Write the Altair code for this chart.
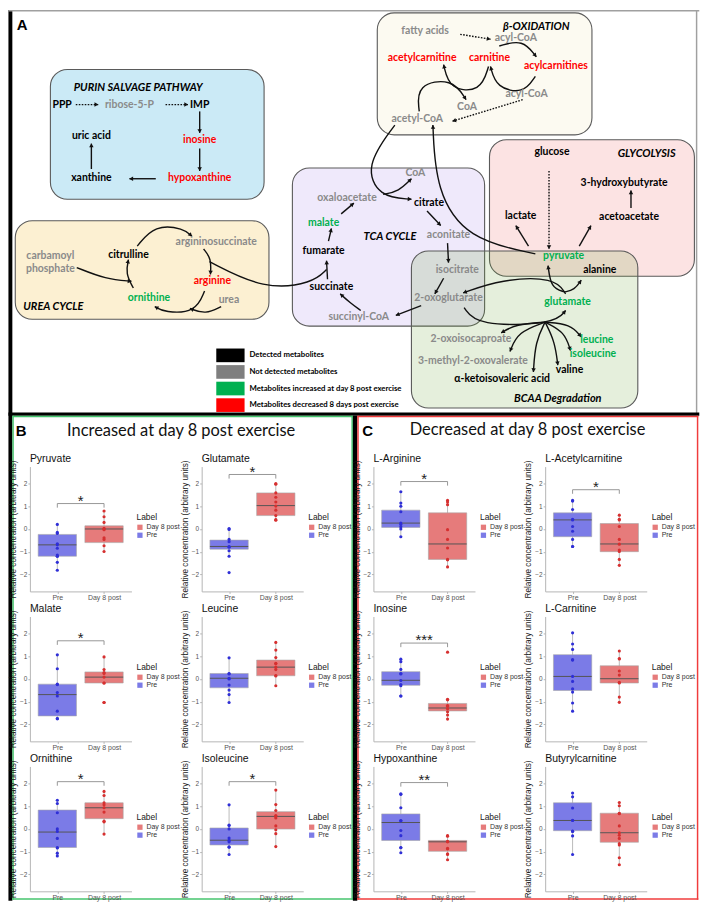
import math
import altair as alt
import pandas as pd

# ======================= PANEL A : pathway diagram =======================
box_names = ["purin", "beta", "glyco", "tca", "urea"]
box_x1 = [43, 378, 493, 291, 7]
box_x2 = [262, 598, 703, 488, 267]
box_y1 = [61, 3, 133, 162, 216]
box_y2 = [194, 128, 273, 324, 317]
box_colors = {"purin": "#cbeaf6", "beta": "#fcfaf1", "glyco": "#fce3e3", "tca": "#efe9fb", "urea": "#fcf0d2"}
bcaa_x1, bcaa_x2, bcaa_y1, bcaa_y2 = [413], [645], [247], [408]

met_text = ["PPP", "ribose-5-P", "IMP", "uric acid", "inosine", "xanthine", "hypoxanthine",
            "fatty acids", "acyl-CoA", "acetylcarnitine", "carnitine", "acylcarnitines", "acyl-CoA", "CoA", "acetyl-CoA",
            "glucose", "3-hydroxybutyrate", "lactate", "acetoacetate", "pyruvate", "alanine",
            "CoA", "oxaloacetate", "citrate", "malate", "aconitate", "fumarate", "isocitrate", "succinate",
            "2-oxoglutarate", "succinyl-CoA",
            "carbamoyl", "phosphate", "citrulline", "argininosuccinate", "arginine", "ornithine", "urea",
            "glutamate", "2-oxoisocaproate", "leucine", "3-methyl-2-oxovalerate", "isoleucine", "valine",
            "α-ketoisovaleric acid"]
met_x = [55, 124, 196, 85, 196, 85, 196,
         427, 520, 424, 493, 561, 531, 470, 419,
         557, 631, 525, 636, 569, 606,
         417, 347, 431, 323, 451, 323, 460, 331, 451, 359,
         43, 43, 123, 213, 209, 144, 226,
         573, 474, 603, 476, 599, 575, 506]
met_y = [97, 97, 97, 129, 133, 172, 172,
         22, 29, 49, 49, 57, 86, 99, 112,
         146, 177, 211, 212, 252, 267,
         167, 193, 198, 218, 231, 247, 267, 284, 295, 315,
         252, 266, 251, 238, 278, 295, 297,
         299, 337, 338, 360, 353, 369, 378]
met_kind = ["det", "nd", "det", "det", "down", "det", "down",
            "nd", "nd", "down", "down", "down", "nd", "nd", "nd",
            "det", "det", "det", "det", "up", "det",
            "nd", "nd", "det", "up", "nd", "det", "nd", "det", "nd", "nd",
            "nd", "nd", "det", "nd", "down", "up", "nd",
            "up", "nd", "up", "nd", "up", "det", "det"]

sec_text = ["PURIN SALVAGE PATHWAY", "β-OXIDATION", "GLYCOLYSIS", "TCA CYCLE", "UREA CYCLE", "BCAA Degradation"]
sec_x = [133, 541, 654, 391, 46, 563]
sec_y = [80, 17, 148, 233, 304, 399]

leg_labels = ["Detected metabolites", "Not detected metabolites",
              "Metabolites increased at day 8 post exercise", "Metabolites decreased 8 days post exercise"]
leg_kind = ["det", "nd", "up", "down"]
leg_y1 = [347, 364, 381, 398]
leg_y2 = [361, 378, 395, 412]
leg_x1, leg_x2, leg_tx = 213, 242, 247

# arrows: (points, dotted, arrowhead)
arrows = [
    ([(69, 97), (92, 97)], True, True),
    ([(161, 97), (184, 97)], True, True),
    ([(196, 104), (196, 126)], False, True),
    ([(196, 142), (196, 165)], False, True),
    ([(151, 173), (124, 173)], False, True),
    ([(85, 163), (85, 137)], False, True),
    ([(463, 25), (494, 30)], True, True),
    ([(527, 92), (455, 114)], True, True),
    ([(503, 37), (527, 30), (541, 48)], False, True),
    ([(540, 68), (528, 86), (500, 80), (494, 58)], False, True),
    ([(492, 58), (484, 84), (452, 82), (446, 56)], False, True),
    ([(421, 104), (418, 76), (455, 70), (469, 92)], False, True),
    ([(540, 250), (470, 235), (438, 185), (435, 118)], False, True),
    ([(396, 118), (365, 160), (380, 192), (413, 194)], False, True),
    ([(384, 189), (400, 186), (413, 173)], False, True),
    ([(429, 206), (443, 221)], False, True),
    ([(450, 239), (451, 259)], False, True),
    ([(446, 275), (437, 291)], False, True),
    ([(423, 303), (397, 313)], False, True),
    ([(361, 308), (350, 300), (340, 291)], False, True),
    ([(327, 276), (326, 257)], False, True),
    ([(328, 237), (331, 224)], False, True),
    ([(341, 209), (354, 198)], False, True),
    ([(206, 258), (262, 287), (312, 280), (326, 266)], False, False),
    ([(554, 165), (554, 245)], True, True),
    ([(533, 242), (520, 221)], False, True),
    ([(585, 242), (597, 221)], False, True),
    ([(638, 203), (638, 185)], False, True),
    ([(570, 289), (556, 285), (553, 262)], False, True),
    ([(570, 289), (580, 287), (587, 277)], False, True),
    ([(571, 291), (560, 274), (505, 276), (466, 290)], False, True),
    ([(467, 305), (480, 324), (560, 322), (571, 308)], False, True),
    ([(550, 320), (520, 322), (505, 331)], False, True),
    ([(550, 320), (522, 330), (514, 350)], False, True),
    ([(550, 320), (540, 340), (538, 371)], False, True),
    ([(550, 320), (560, 340), (563, 364)], False, True),
    ([(550, 320), (570, 330), (576, 349)], False, True),
    ([(550, 320), (576, 322), (587, 335)], False, True),
    ([(70, 264), (100, 276), (126, 278)], False, True),
    ([(128, 285), (120, 270), (123, 256)], False, True),
    ([(132, 242), (150, 220), (180, 224), (188, 232)], False, True),
    ([(200, 245), (208, 255), (207, 271)], False, True),
    ([(201, 288), (192, 310), (160, 310), (150, 304)], False, True),
    ([(218, 304), (202, 312), (186, 306)], False, True),
]

# frame pieces of the whole figure (A, B, C)
frame_x1 = [0, 0, 704.5, 0, 4, 4, 351.5, 4, 353, 357.5, 357.5, 705.5, 357.5]
frame_x2 = [4, 708, 706, 708, 353, 5.5, 353, 353, 357.5, 707, 359, 707, 707]
frame_y1 = [0, 0, 0, 412.5, 416, 416, 416, 910.5, 416, 416, 416, 416, 910.5]
frame_y2 = [913, 1.5, 414, 416, 417.5, 912, 912, 912, 913, 417.5, 912, 912, 912]
frame_kind = ["black", "gray", "gray", "black", "green", "green", "green", "green", "black",
              "red", "red", "red", "red"]

hdr_text = ["Increased at day 8 post exercise", "Decreased at day 8 post exercise"]
hdr_x = [177, 532]
hdr_y = [432, 431]
letter_text = ["A", "B", "C"]
letter_x = [14, 13, 368]
letter_y = [15, 432, 432]

KIND_COL = {"det": "#000000", "nd": "#8a8a8a", "up": "#00b050", "down": "#ff0000"}
LEGR_COL = {"det": "#000000", "nd": "#7f7f7f", "up": "#00b050", "down": "#ff0000"}
FRAME_COL = {"black": "#000000", "gray": "#a0a0a0", "green": "#46c46e", "red": "#f03c3c"}

SCALE = 0.98
X0 = 22  # reference x of the first box-plot axis = left edge of the layout
WA, HA = (708 - X0) * SCALE, 413 * SCALE
xsA = alt.Scale(domain=[X0, 708], nice=False, zero=False)
ysA = alt.Scale(domain=[0, 413], nice=False, zero=False, reverse=True)


def ax(f):
    return alt.X(f"{f}:Q", scale=xsA, axis=None)


def ay(f):
    return alt.Y(f"{f}:Q", scale=ysA, axis=None)


frame_df = pd.DataFrame(dict(x1=frame_x1, x2=frame_x2, y1=frame_y1, y2=frame_y2, kind=frame_kind))
frame_df["col"] = frame_df.kind.map(FRAME_COL)
frame_layer = alt.Chart(frame_df).mark_rect().encode(
    x=ax("x1"), x2="x2", y=ay("y1"), y2="y2", fill=alt.Fill("col:N", scale=None))

box_df = pd.DataFrame(dict(name=box_names, x1=box_x1, x2=box_x2, y1=box_y1, y2=box_y2))
box_df["col"] = box_df.name.map(box_colors)
box_layer = alt.Chart(box_df).mark_rect(cornerRadius=17, stroke="#5a5a5a", strokeWidth=1.1).encode(
    x=ax("x1"), x2="x2", y=ay("y1"), y2="y2", fill=alt.Fill("col:N", scale=None))
bcaa_df = pd.DataFrame(dict(x1=bcaa_x1, x2=bcaa_x2, y1=bcaa_y1, y2=bcaa_y2))
bcaa_layer = alt.Chart(bcaa_df).mark_rect(cornerRadius=17, stroke="#5a5a5a", strokeWidth=1.1,
                                          fill="#66a131", fillOpacity=0.17).encode(
    x=ax("x1"), x2="x2", y=ay("y1"), y2="y2")

rows, heads = [], []
for i, (pts, dotted, head) in enumerate(arrows):
    for j, (px, py) in enumerate(pts):
        rows.append(dict(id=i, seq=j, x=px, y=py, dotted=dotted))
    if head:
        (x0, y0), (x1, y1) = pts[-2], pts[-1]
        dx, dy = x1 - x0, y1 - y0
        L = math.hypot(dx, dy)
        heads.append(dict(x=x1 - dx / L * 1.8, y=y1 - dy / L * 1.8,
                          ang=math.degrees(math.atan2(dx, -dy)) % 360))
arr_df = pd.DataFrame(rows)
head_df = pd.DataFrame(heads)

solid_layer = alt.Chart(arr_df[~arr_df.dotted]).mark_line(
    interpolate="basis", strokeWidth=1.4, color="#111111").encode(
    x=ax("x"), y=ay("y"), detail="id:N", order="seq:Q")
dotted_layer = alt.Chart(arr_df[arr_df.dotted]).mark_line(
    interpolate="basis", strokeWidth=1.4, strokeDash=[1.6, 1.4], color="#111111").encode(
    x=ax("x"), y=ay("y"), detail="id:N", order="seq:Q")
head_layer = alt.Chart(head_df).mark_point(shape="triangle-up", filled=True, size=20,
                                           color="#111111", opacity=1).encode(
    x=ax("x"), y=ay("y"), angle=alt.Angle("ang:Q", scale=None))

met_df = pd.DataFrame(dict(text=met_text, x=met_x, y=met_y, kind=met_kind))
met_df["col"] = met_df.kind.map(KIND_COL)
met_layer = alt.Chart(met_df).mark_text(font="Lato", fontWeight="bold", fontSize=10.5,
                                        baseline="middle", align="center").encode(
    x=ax("x"), y=ay("y"), text="text:N", color=alt.Color("col:N", scale=None))

sec_df = pd.DataFrame(dict(text=sec_text, x=sec_x, y=sec_y))
sec_layer = alt.Chart(sec_df).mark_text(font="Lato", fontWeight="bold", fontStyle="italic", fontSize=11,
                                        baseline="middle", align="center", color="#000000").encode(
    x=ax("x"), y=ay("y"), text="text:N")

leg_df = pd.DataFrame(dict(label=leg_labels, kind=leg_kind, y1=leg_y1, y2=leg_y2))
leg_df["col"] = leg_df.kind.map(LEGR_COL)
leg_df["x1"] = leg_x1
leg_df["x2"] = leg_x2
leg_df["tx"] = leg_tx
leg_df["yc"] = (leg_df.y1 + leg_df.y2) / 2
leg_rect = alt.Chart(leg_df).mark_rect().encode(
    x=ax("x1"), x2="x2", y=ay("y1"), y2="y2", fill=alt.Fill("col:N", scale=None))
leg_text = alt.Chart(leg_df).mark_text(
    font="Lato", fontWeight="bold", fontSize=7.8, align="left", baseline="middle", color="#000000").encode(
    x=ax("tx"), y=ay("yc"), text="label:N")

hdr_df = pd.DataFrame(dict(text=hdr_text, x=hdr_x, y=hdr_y))
hdr_layer = alt.Chart(hdr_df).mark_text(font="Lato", fontSize=16.5, fontWeight="normal",
                                        baseline="middle", align="center", color="#111111").encode(
    x=ax("x"), y=ay("y"), text="text:N")
let_df = pd.DataFrame(dict(text=letter_text, x=letter_x, y=letter_y))
let_layer = alt.Chart(let_df).mark_text(font="Liberation Sans", fontSize=15, fontWeight="bold",
                                        baseline="middle", align="center", color="#000000").encode(
    x=ax("x"), y=ay("y"), text="text:N")

panel_a = alt.layer(frame_layer, box_layer, bcaa_layer, solid_layer, dotted_layer, head_layer,
                    met_layer, sec_layer, leg_rect, leg_text, hdr_layer, let_layer).properties(
    width=WA, height=HA)

# ======================= PANELS B and C : box plots =======================
# box stats order: low whisker, q1, median, q3, high whisker
pyruvate_pre = [0.2, -0.15, -0.2, -0.65, -0.7, -0.85, -1.15, -1.2, -1.2, -1.47, -1.82]
pyruvate_post = [0.79, 0.54, 0.29, 0.03, 0.0, -0.03, -0.39, -0.46, -0.74, -0.99]
pyruvate_box_pre = [-1.82, -1.2, -0.7, -0.24, 0.2]
pyruvate_box_post = [-0.99, -0.6, 0.0, 0.14, 0.79]

glutamate_pre = [0.02, -0.02, -0.46, -0.56, -0.77, -0.8, -0.96, -1.2, -1.92]
glutamate_post = [2.0, 1.97, 1.59, 1.4, 1.19, 1.01, 0.83, 0.59, 0.41, 0.39]
glutamate_box_pre = [-1.2, -0.89, -0.77, -0.49, 0.02]
glutamate_box_post = [0.39, 0.59, 1.03, 1.59, 2.0]

malate_pre = [1.06, 0.45, -0.23, -0.25, -0.6, -0.75, -1.42, -1.75, -1.75]
malate_post = [0.97, 0.41, 0.28, 0.24, 0.08, -0.18, -0.18, -1.04, -1.04]
malate_box_pre = [-1.75, -1.63, -0.69, -0.23, 1.06]
malate_box_post = [-0.18, -0.18, 0.08, 0.31, 0.97]

leucine_pre = [0.93, 0.24, 0.22, 0.03, 0.0, -0.27, -0.49, -0.69, -1.04]
leucine_post = [1.61, 1.27, 0.94, 0.69, 0.67, 0.52, 0.41, 0.15, 0.13, -0.3]
leucine_box_pre = [-1.04, -0.39, 0.03, 0.24, 0.93]
leucine_box_post = [-0.3, 0.14, 0.52, 0.83, 1.61]

ornithine_pre = [1.26, 1.12, 0.71, 0.0, -0.11, -0.42, -0.82, -0.84, -1.07, -1.19]
ornithine_post = [1.65, 1.47, 1.15, 1.06, 0.93, 0.74, 0.34, 0.31, -0.23]
ornithine_box_pre = [-1.19, -0.82, -0.14, 0.83, 1.26]
ornithine_box_post = [-0.23, 0.45, 0.93, 1.15, 1.65]

isoleucine_pre = [1.06, 0.17, 0.15, 0.0, -0.4, -0.5, -0.57, -0.79, -0.81, -1.13]
isoleucine_post = [1.71, 1.07, 0.81, 0.59, 0.55, 0.48, 0.13, -0.04, -0.21, -0.78]
isoleucine_box_pre = [-1.13, -0.71, -0.5, 0.04, 1.06]
isoleucine_box_post = [-0.78, -0.01, 0.55, 0.76, 1.71]

arginine_pre = [1.64, 1.14, 1.0, 0.76, 0.26, 0.2, 0.1, 0.0, -0.34]
arginine_post = [1.26, 1.19, 1.07, -0.03, -0.46, -0.84, -1.34, -1.36, -1.67]
arginine_box_pre = [-0.34, 0.07, 0.26, 0.83, 1.64]
arginine_box_post = [-1.67, -1.34, -0.66, 0.71, 1.26]

acetylcarnitine_pre = [1.26, 1.23, 0.86, 0.43, 0.4, 0.11, -0.1, -0.46, -0.77, -0.77]
acetylcarnitine_post = [0.61, 0.43, 0.4, 0.11, -0.46, -0.67, -0.93, -0.99, -1.34, -1.6]
acetylcarnitine_box_pre = [-0.77, -0.34, 0.4, 0.71, 1.26]
acetylcarnitine_box_post = [-1.6, -1.0, -0.66, 0.24, 0.61]

inosine_pre = [0.87, 0.76, 0.42, 0.24, 0.22, -0.07, -0.25, -0.3, -0.75, -0.75]
inosine_post = [1.18, -0.9, -0.92, -1.17, -1.2, -1.31, -1.45, -1.59, -1.77]
inosine_box_pre = [-0.75, -0.28, -0.06, 0.32, 0.87]
inosine_box_post = [-1.77, -1.41, -1.28, -1.08, -0.9]

carnitine_pre = [2.03, 1.54, 1.3, 0.85, 0.83, 0.11, -0.11, -0.44, -0.58, -1.06, -1.42]
carnitine_post = [1.23, 0.9, 0.88, 0.35, 0.17, -0.15, -0.18, -0.8, -1.03]
carnitine_box_pre = [-1.42, -0.51, 0.11, 1.07, 2.03]
carnitine_box_post = [-1.03, -0.18, 0.01, 0.58, 1.23]

hypoxanthine_pre = [1.54, 1.52, 0.93, 0.35, 0.37, -0.07, -0.3, -0.82, -0.83, -1.05]
hypoxanthine_post = [-0.3, -0.32, -0.55, -0.57, -0.86, -0.88, -1.1, -1.13, -1.36]
hypoxanthine_box_pre = [-1.05, -0.51, 0.28, 0.66, 1.54]
hypoxanthine_box_post = [-1.36, -0.99, -0.57, -0.51, -0.3]

butyryl_pre = [1.58, 1.41, 0.92, 0.38, 0.37, -0.1, -0.11, -0.31, -1.13]
butyryl_post = [1.16, 1.02, 0.69, 0.67, 0.13, -0.17, -0.28, -0.42, -0.65, -0.71, -1.27, -1.58]
butyryl_box_pre = [-1.13, -0.08, 0.37, 1.15, 1.58]
butyryl_box_post = [-1.58, -0.59, -0.17, 0.69, 1.16]

groups = ["Pre", "Day 8 post"]
legend_order = ["Day 8 post", "Pre"]
y_ticks = [-2, -1, 0, 1, 2]

SANS = "Liberation Sans"
BLUE_FILL, RED_FILL = "#7b7be7", "#e67b7b"
BLUE_PT, RED_PT = "#2f2fd6", "#d63030"
PW, PH = 102, 125.4
HALF = 0.41
XDOM = [0.413, 2.587]
YDOM = [-2.75, 2.75]
YTITLE = "Relative concentration (arbitrary units)"


def subplot(title, pre, post, box_pre, box_post, bracket=None, stars=""):
    lab = [groups[0]] * len(pre) + [groups[1]] * len(post)
    pts = pd.DataFrame({"Label": lab, "value": list(pre) + list(post)})
    pts["pos"] = [1 if l == groups[0] else 2 for l in lab]
    pts["pcol"] = [BLUE_PT if l == groups[0] else RED_PT for l in lab]
    st = pd.DataFrame({"Label": groups, "pos": [1, 2]})
    for k, key in enumerate(["lo", "q1", "med", "q3", "hi"]):
        st[key] = [box_pre[k], box_post[k]]
    st["xl"] = st.pos - HALF
    st["xr"] = st.pos + HALF

    xsc = alt.Scale(domain=XDOM, nice=False, zero=False)
    ysc = alt.Scale(domain=YDOM, nice=False, zero=False)
    xax = alt.Axis(values=[1, 2], labelExpr="datum.value == 1 ? 'Pre' : 'Day 8 post'", title=None,
                   grid=False, domainColor="#b5b5b5", tickColor="#b5b5b5", tickSize=2,
                   labelFont=SANS, labelFontSize=7, labelColor="#555555", labelPadding=0.5)
    yax = alt.Axis(values=y_ticks, format="d", title=YTITLE, grid=False,
                   domainColor="#b5b5b5", tickColor="#b5b5b5", tickSize=2, labelFont=SANS,
                   labelFontSize=6.5, labelColor="#555555", labelPadding=1,
                   titleFont=SANS, titleFontSize=8.2, titleFontWeight="normal", titleColor="#1a1a1a",
                   titlePadding=2)

    def X(f):
        return alt.X(f + ":Q", scale=xsc, axis=xax)

    def Y(f):
        return alt.Y(f + ":Q", scale=ysc, axis=yax)

    whisk = alt.Chart(st).mark_rule(color="#b3b3b3", strokeWidth=0.9).encode(
        x=X("pos"), y=Y("lo"), y2="hi")
    box = alt.Chart(st).mark_rect(stroke="#a8a8a8", strokeWidth=0.6).encode(
        x=X("xl"), x2="xr", y=Y("q1"), y2="q3",
        fill=alt.Fill("Label:N", scale=alt.Scale(domain=legend_order, range=[RED_FILL, BLUE_FILL]),
                      legend=alt.Legend(orient="none", legendX=107, legendY=47, title="Label",
                                        titleFont=SANS, titleFontSize=8.5, titleFontWeight="normal",
                                        titleColor="#222222", titlePadding=2, labelFont=SANS,
                                        labelFontSize=7, labelColor="#333333", symbolType="square",
                                        symbolSize=28, symbolStrokeWidth=0, rowPadding=0,
                                        labelOffset=3)))
    med = alt.Chart(st).mark_rule(color="#555555", strokeWidth=1).encode(
        x=X("xl"), x2="xr", y=Y("med"))
    dots = alt.Chart(pts).mark_circle(size=10, opacity=1).encode(
        x=X("pos"), y=Y("value"), color=alt.Color("pcol:N", scale=None))
    layers = [whisk, box, med, dots]
    if bracket is not None:
        bh = pd.DataFrame({"a": [1], "b": [2], "y": [bracket]})
        bv = pd.DataFrame({"pos": [1, 2], "y1": [bracket - 0.18] * 2, "y2": [bracket] * 2})
        bt = pd.DataFrame({"pos": [1.5], "y": [bracket + 0.12], "t": [stars]})
        layers += [
            alt.Chart(bh).mark_rule(color="#8c8c8c", strokeWidth=0.9).encode(x=X("a"), x2="b", y=Y("y")),
            alt.Chart(bv).mark_rule(color="#8c8c8c", strokeWidth=0.9).encode(x=X("pos"), y=Y("y1"), y2="y2"),
            alt.Chart(bt).mark_text(font=SANS, fontSize=15, baseline="middle", align="center",
                                    color="#222222").encode(x=X("pos"), y=Y("y"), text="t:N"),
        ]
    return alt.layer(*layers).properties(
        width=PW, height=PH,
        title=alt.TitleParams(title, anchor="start", frame="group", font=SANS, fontSize=10.5,
                              fontWeight="normal", color="#111111", offset=-4))


b_plots = [
    subplot("Pyruvate", pyruvate_pre, pyruvate_post, pyruvate_box_pre, pyruvate_box_post, 1.12, "*"),
    subplot("Glutamate", glutamate_pre, glutamate_post, glutamate_box_pre, glutamate_box_post, 2.4, "*"),
    subplot("Malate", malate_pre, malate_post, malate_box_pre, malate_box_post, 1.68, "*"),
    subplot("Leucine", leucine_pre, leucine_post, leucine_box_pre, leucine_box_post),
    subplot("Ornithine", ornithine_pre, ornithine_post, ornithine_box_pre, ornithine_box_post, 2.08, "*"),
    subplot("Isoleucine", isoleucine_pre, isoleucine_post, isoleucine_box_pre, isoleucine_box_post, 2.08, "*"),
]
c_plots = [
    subplot("L-Arginine", arginine_pre, arginine_post, arginine_box_pre, arginine_box_post, 2.09, "*"),
    subplot("L-Acetylcarnitine", acetylcarnitine_pre, acetylcarnitine_post, acetylcarnitine_box_pre,
            acetylcarnitine_box_post, 1.73, "*"),
    subplot("Inosine", inosine_pre, inosine_post, inosine_box_pre, inosine_box_post, 1.58, "***"),
    subplot("L-Carnitine", carnitine_pre, carnitine_post, carnitine_box_pre, carnitine_box_post),
    subplot("Hypoxanthine", hypoxanthine_pre, hypoxanthine_post, hypoxanthine_box_pre,
            hypoxanthine_box_post, 2.04, "**"),
    subplot("Butyrylcarnitine", butyryl_pre, butyryl_post, butyryl_box_pre, butyryl_box_post),
]

cells = []
for r in range(3):
    cells += [b_plots[2 * r], b_plots[2 * r + 1], c_plots[2 * r], c_plots[2 * r + 1]]
grid = alt.concat(*cells, columns=4, spacing={"row": 24.6, "column": 70.5},
                  bounds="flush").resolve_scale(fill="independent")

chart = alt.vconcat(panel_a, grid, spacing=53.6, bounds="flush").properties(
    padding=0).configure_view(stroke=None)

chart.save("out.html", embed_options={"renderer": "svg", "actions": False})
